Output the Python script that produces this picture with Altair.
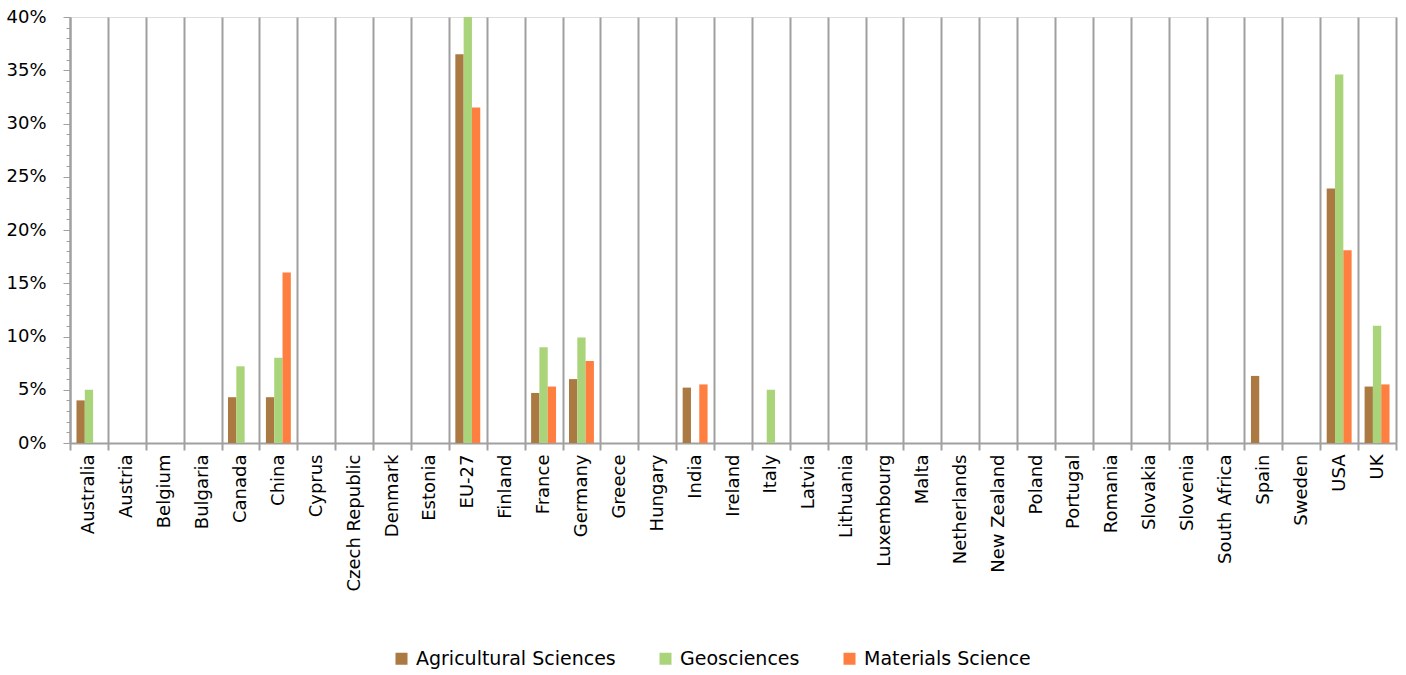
import altair as alt
import pandas as pd

countries = [
    "Australia", "Austria", "Belgium", "Bulgaria", "Canada", "China", "Cyprus",
    "Czech Republic", "Denmark", "Estonia", "EU-27", "Finland", "France",
    "Germany", "Greece", "Hungary", "India", "Ireland", "Italy", "Latvia",
    "Lithuania", "Luxembourg", "Malta", "Netherlands", "New Zealand", "Poland",
    "Portugal", "Romania", "Slovakia", "Slovenia", "South Africa", "Spain",
    "Sweden", "USA", "UK",
]
fields = ["Agricultural Sciences", "Geosciences", "Materials Science"]
colors = ["#AB7942", "#AAD479", "#FF7F41"]

# share of world output (%) per country and field; countries not listed have no bar
agricultural = {"Australia": 4.0, "Canada": 4.3, "China": 4.3, "EU-27": 36.5,
                "France": 4.7, "Germany": 6.0, "India": 5.2, "Spain": 6.3,
                "USA": 23.9, "UK": 5.3}
geosciences = {"Australia": 5.0, "Canada": 7.2, "China": 8.0, "EU-27": 40.0,
               "France": 9.0, "Germany": 9.9, "Italy": 5.0, "USA": 34.6,
               "UK": 11.0}
materials = {"China": 16.0, "EU-27": 31.5, "France": 5.3, "Germany": 7.7,
             "India": 5.5, "USA": 18.1, "UK": 5.5}

rows = []
for field, series in zip(fields, [agricultural, geosciences, materials]):
    for country, pct in series.items():
        rows.append({"country": country, "field": field, "share": pct / 100})
df = pd.DataFrame(rows)

font = "DejaVu Sans"
grey = "#a0a0a0"

y_ticks = [i / 100 for i in range(0, 41)]
major = "round(datum.value * 100) % 5 === 0"

bars = alt.Chart(df).mark_bar(clip=True).encode(
    x=alt.X(
        "country:N",
        sort=countries,
        scale=alt.Scale(domain=countries, paddingInner=0, paddingOuter=0),
        axis=alt.Axis(
            title=None,
            labelAngle=-90,
            labelFontSize=18,
            labelFont=font,
            labelColor="#000000",
            labelPadding=4,
            labelLimit=0,
            tickBand="extent",
            grid=True,
            gridColor=grey,
            gridWidth=2,
            tickColor=grey,
            tickWidth=2,
            tickSize=7,
            domainColor=grey,
            domainWidth=2,
        ),
    ),
    xOffset=alt.XOffset(
        "field:N",
        sort=fields,
        scale=alt.Scale(domain=fields, paddingInner=0, paddingOuter=0.78),
    ),
    y=alt.Y(
        "share:Q",
        scale=alt.Scale(domain=[0, 0.4], nice=False),
        axis=alt.Axis(
            title=None,
            values=y_ticks,
            labelExpr=f"{major} ? format(datum.value, '.0%') : ''",
            labelFontSize=18,
            labelFont=font,
            labelColor="#000000",
            labelPadding=17,
            tickSize={"condition": {"test": major, "value": 7}, "value": 4},
            tickColor=grey,
            tickWidth=1,
            domainColor=grey,
            domainWidth=2,
            grid=False,
        ),
    ),
    color=alt.Color(
        "field:N",
        sort=fields,
        scale=alt.Scale(domain=fields, range=colors),
        legend=alt.Legend(
            title=None,
            orient="none",
            direction="horizontal",
            legendX=322,
            legendY=632,
            symbolType="square",
            symbolSize=144,
            symbolStrokeWidth=0,
            labelFontSize=19,
            labelFont=font,
            labelColor="#000000",
            labelLimit=0,
            columnPadding=40,
            labelOffset=5,
        ),
    ),
)

chart = bars.properties(
    width=1326,
    height=426,
    autosize=alt.AutoSizeParams(type="none"),
    padding={"left": 70, "top": 17, "right": 10, "bottom": 232},
).configure_view(stroke=None).configure(background="white")

chart.save("out.html", embed_options={"renderer": "svg", "actions": False})
